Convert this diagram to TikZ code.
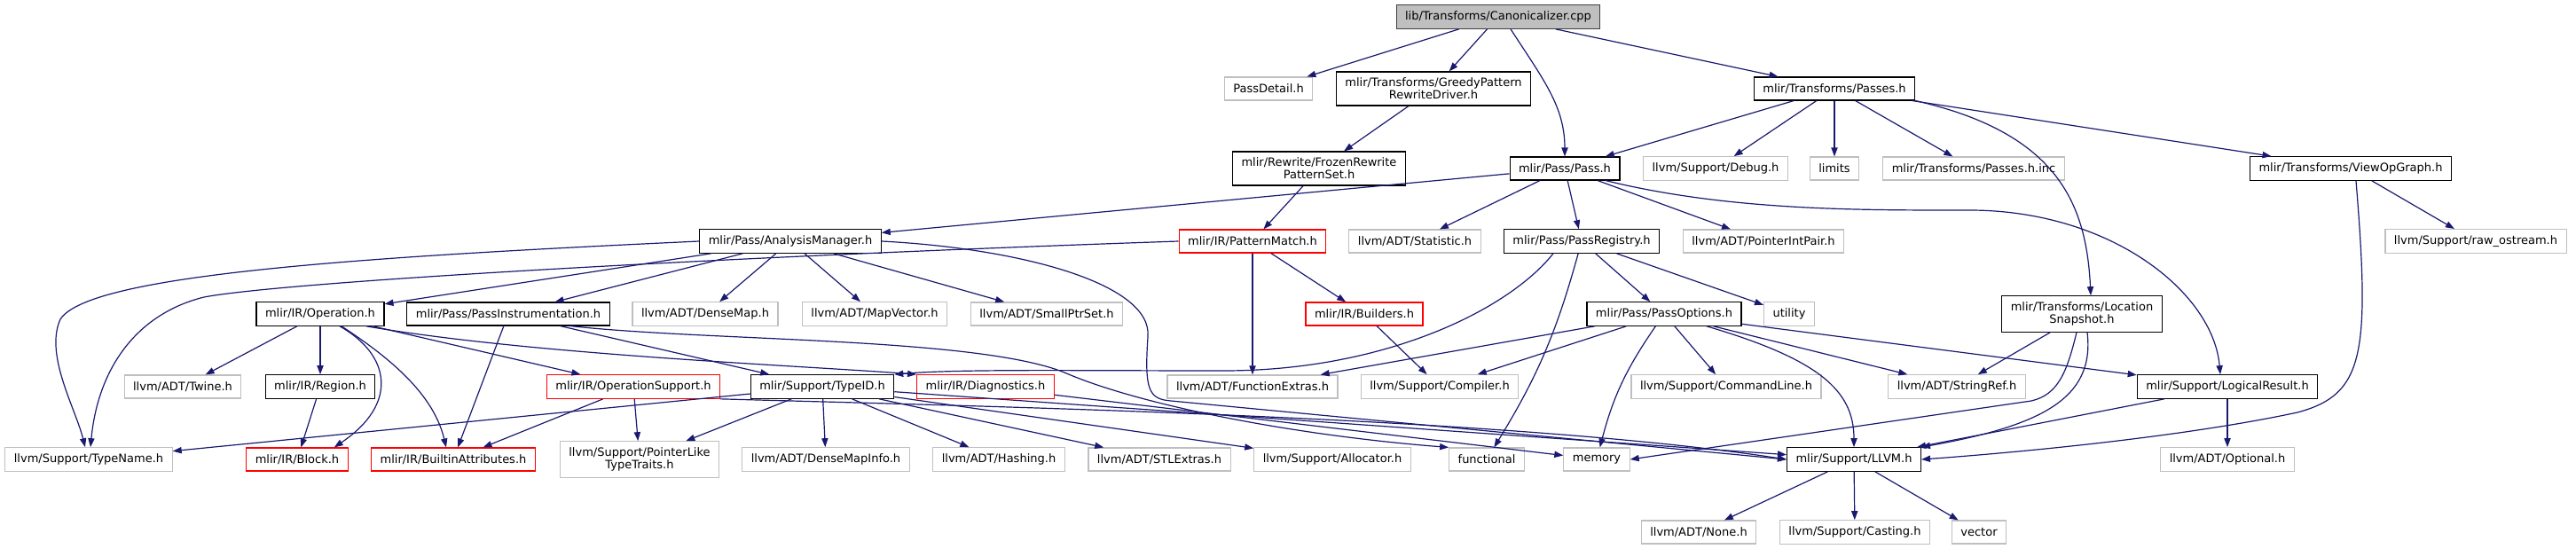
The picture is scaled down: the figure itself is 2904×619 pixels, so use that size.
\documentclass[tikz,border=0pt]{standalone}
\usepackage{fontspec}
\setmainfont{DejaVu Sans}
\usepackage{tikz}
\usetikzlibrary{arrows.meta, positioning}
\definecolor{incedge}{HTML}{191970}
\definecolor{extgrey}{HTML}{BFBFBF}
\definecolor{rootfill}{HTML}{BFBFBF}
\definecolor{rootline}{HTML}{404040}
\tikzset{
  box/.style={draw=black, line width=0.55pt, align=center,
              font=\fontsize{6.5}{7}\selectfont, inner xsep=5pt, inner ysep=3.5pt,
              minimum height=13pt, fill=white},
  rootbox/.style={box, fill=rootfill, draw=rootline},
  greybox/.style={box, draw=extgrey},
  redbox/.style={box, draw=red},
  flow/.style={-{Triangle[length=5pt, width=3.6pt]}, line width=0.6pt, draw=incedge},
}
\begin{document}
\begin{tikzpicture}[x=0.5pt, y=-0.5pt]
  \useasboundingbox (0,0) rectangle (2904,619);

  \node[rootbox] (canon) at (1689,19) {lib/Transforms/Canonicalizer.cpp};

  \node[greybox] (passdetail) at (1430,100) {PassDetail.h};
  \node[box] (greedy) at (1616,100) {mlir/Transforms/GreedyPattern\\RewriteDriver.h};
  \node[box] (passes) at (2068,100) {mlir/Transforms/Passes.h};

  \node[box] (frozen) at (1487,190) {mlir/Rewrite/FrozenRewrite\\PatternSet.h};
  \node[box] (pass) at (1764,190) {mlir/Pass/Pass.h};
  \node[greybox] (debug) at (1934,190) {llvm/Support/Debug.h};
  \node[greybox] (limits) at (2068,190) {limits};
  \node[greybox] (passesinc) at (2225,190) {mlir/Transforms/Passes.h.inc};
  \node[box] (viewop) at (2650,190) {mlir/Transforms/ViewOpGraph.h};

  \node[box] (anamgr) at (891,272) {mlir/Pass/AnalysisManager.h};
  \node[redbox] (patmatch) at (1412,272) {mlir/IR/PatternMatch.h};
  \node[greybox] (statistic) at (1595,272) {llvm/ADT/Statistic.h};
  \node[box] (passreg) at (1783,272) {mlir/Pass/PassRegistry.h};
  \node[greybox] (ptrintpair) at (1988,272) {llvm/ADT/PointerIntPair.h};
  \node[greybox] (rawostream) at (2791,272) {llvm/Support/raw\_ostream.h};

  \node[box] (operation) at (361,354) {mlir/IR/Operation.h};
  \node[box] (passinstr) at (573,354) {mlir/Pass/PassInstrumentation.h};
  \node[greybox] (densemap) at (795,354) {llvm/ADT/DenseMap.h};
  \node[greybox] (mapvector) at (986,354) {llvm/ADT/MapVector.h};
  \node[greybox] (smallptrset) at (1180,354) {llvm/ADT/SmallPtrSet.h};
  \node[redbox] (builders) at (1538,354) {mlir/IR/Builders.h};
  \node[box] (passopts) at (1876,354) {mlir/Pass/PassOptions.h};
  \node[greybox] (utility) at (2017,354) {utility};
  \node[box] (locsnap) at (2347,354) {mlir/Transforms/Location\\Snapshot.h};

  \node[greybox] (twine) at (206,436) {llvm/ADT/Twine.h};
  \node[box] (region) at (361,436) {mlir/IR/Region.h};
  \node[redbox] (opsupport) at (714,436) {mlir/IR/OperationSupport.h};
  \node[box] (typeid) at (927,436) {mlir/Support/TypeID.h};
  \node[redbox] (diagnostics) at (1111,436) {mlir/IR/Diagnostics.h};
  \node[greybox] (funcextras) at (1412,436) {llvm/ADT/FunctionExtras.h};
  \node[greybox] (compiler) at (1623,436) {llvm/Support/Compiler.h};
  \node[greybox] (cmdline) at (1946,436) {llvm/Support/CommandLine.h};
  \node[greybox] (stringref) at (2206,436) {llvm/ADT/StringRef.h};
  \node[box] (logicres) at (2511,436) {mlir/Support/LogicalResult.h};

  \node[greybox] (typename) at (100,518) {llvm/Support/TypeName.h};
  \node[redbox] (block) at (335,518) {mlir/IR/Block.h};
  \node[redbox] (builtinattr) at (511,518) {mlir/IR/BuiltinAttributes.h};
  \node[greybox] (ptrlike) at (721,518) {llvm/Support/PointerLike\\TypeTraits.h};
  \node[greybox] (densemapinfo) at (931,518) {llvm/ADT/DenseMapInfo.h};
  \node[greybox] (hashing) at (1126,518) {llvm/ADT/Hashing.h};
  \node[greybox] (stlextras) at (1307,518) {llvm/ADT/STLExtras.h};
  \node[greybox] (allocator) at (1502,518) {llvm/Support/Allocator.h};
  \node[greybox] (functional) at (1676,518) {functional};
  \node[greybox] (memory) at (1800,518) {memory};
  \node[box] (llvmh) at (2090,518) {mlir/Support/LLVM.h};
  \node[greybox] (optional) at (2511,518) {llvm/ADT/Optional.h};

  \node[greybox] (none) at (1915,600) {llvm/ADT/None.h};
  \node[greybox] (casting) at (2091,600) {llvm/Support/Casting.h};
  \node[greybox] (vector) at (2231,600) {vector};

  \draw[flow] (canon) -- (passdetail);
  \draw[flow] (canon) -- (greedy);
  \draw[flow] ([xshift=7pt]canon.south) .. controls (1740,90) and (1764,120) .. (pass.north);
  \draw[flow] (canon) -- (passes);
  \draw[flow] (greedy) -- (frozen);
  \draw[flow] (frozen) -- (patmatch);
  \draw[flow] (passes) -- (pass);
  \draw[flow] (passes) -- (debug);
  \draw[flow] (passes) -- (limits);
  \draw[flow] (passes) -- (passesinc);
  \draw[flow] (passes) -- (viewop);
  \draw[flow] (passes.south east) .. controls (2320,150) and (2352,230) .. ([xshift=5pt]locsnap.north);
  \draw[flow] (pass) -- (anamgr);
  \draw[flow] (pass) -- (statistic);
  \draw[flow] (pass) -- (passreg);
  \draw[flow] (pass) -- (ptrintpair);
  \draw[flow] ([xshift=23pt]pass.south) .. controls (1950,238) and (2100,237) .. (2220,237)
    .. controls (2380,237) and (2495,330) .. ([xshift=-4pt]logicres.north);
  \draw[flow] (viewop) -- (rawostream);
  \draw[flow] ([xshift=3pt]viewop.south) .. controls (2672,400) and (2665,445) .. (2590,465)
    .. controls (2450,495) and (2250,512) .. (llvmh.east);

  \draw[flow] (anamgr.west) .. controls (400,290) and (100,310) .. (68,360)
    .. controls (50,400) and (85,460) .. ([xshift=-2pt]typename.north);
  \draw[flow] (anamgr) -- (operation);
  \draw[flow] (anamgr) -- (passinstr);
  \draw[flow] (anamgr) -- (densemap);
  \draw[flow] (anamgr) -- (mapvector);
  \draw[flow] (anamgr) -- (smallptrset);
  \draw[flow] (anamgr.east) .. controls (1150,280) and (1300,320) .. (1294,380)
    .. controls (1290,440) and (1295,450) .. (1320,452) -- (llvmh.west);
  \draw[flow] (patmatch) -- (funcextras);
  \draw[flow] (patmatch) -- (builders);
  \draw[flow] (patmatch.west) .. controls (800,290) and (320,318) .. (230,335)
    .. controls (150,355) and (110,420) .. ([xshift=1pt]typename.north);
  \draw[flow] ([xshift=-16pt]passreg.south) .. controls (1700,350) and (1560,418) .. (1380,418)
    .. controls (1200,418) and (1080,416) .. (typeid.north east);
  \draw[flow] (passreg) to[bend left=8] (functional);
  \draw[flow] (passreg) -- (passopts);
  \draw[flow] (passreg) -- (utility);
  \draw[flow] (builders) -- (compiler);

  \draw[flow] (passopts) -- (funcextras);
  \draw[flow] (passopts) -- (compiler);
  \draw[flow] (passopts) to[bend right=10] (memory);
  \draw[flow] (passopts) -- (cmdline);
  \draw[flow] (passopts) -- (stringref);
  \draw[flow] (passopts) -- (logicres);
  \draw[flow] ([xshift=24pt]passopts.south) .. controls (2050,405) and (2090,440) .. (llvmh.north);
  \draw[flow] (locsnap) -- (stringref);
  \draw[flow] ([xshift=-3pt]locsnap.south) .. controls (2330,420) and (2320,445) .. (2290,452)
    -- (memory.east);
  \draw[flow] ([xshift=3pt]locsnap.south) .. controls (2362,450) and (2300,480) .. (llvmh.north east);
  \draw[flow] (logicres) -- (llvmh);
  \draw[flow] (logicres) -- (optional);
  \draw[flow] (llvmh) -- (none);
  \draw[flow] (llvmh) -- (casting);
  \draw[flow] (llvmh) -- (vector);

  \draw[flow] (operation) -- (twine);
  \draw[flow] (operation) -- (region);
  \draw[flow] ([xshift=11pt]operation.south) .. controls (440,400) and (450,455) .. ([xshift=-8pt]block.north east);
  \draw[flow] ([xshift=12pt]operation.south) .. controls (450,410) and (490,450) .. ([xshift=-4pt]builtinattr.north);
  \draw[flow] (operation) -- (opsupport);
  \draw[flow] ([xshift=26pt]operation.south) .. controls (600,400) and (900,412) .. (diagnostics.north west);
  \draw[flow] (region) -- (block);
  \draw[flow] (passinstr) -- (builtinattr);
  \draw[flow] (passinstr) -- (typeid);
  \draw[flow] ([xshift=35pt]passinstr.south) .. controls (800,385) and (1100,380) .. (1200,420)
    .. controls (1280,455) and (1450,490) .. (functional.north west);
  \draw[flow] (opsupport) -- (builtinattr);
  \draw[flow] (opsupport) -- (ptrlike);
  \draw[flow] (opsupport.south east) .. controls (1100,458) and (1700,470) .. (llvmh.west);
  \draw[flow] (typeid) -- (typename);
  \draw[flow] (typeid) -- (ptrlike);
  \draw[flow] (typeid) -- (densemapinfo);
  \draw[flow] (typeid) -- (hashing);
  \draw[flow] (typeid) -- (stlextras);
  \draw[flow] (typeid) -- (allocator);
  \draw[flow] (typeid) -- (llvmh);
  \draw[flow] (diagnostics) -- (memory);
\end{tikzpicture}
\end{document}
